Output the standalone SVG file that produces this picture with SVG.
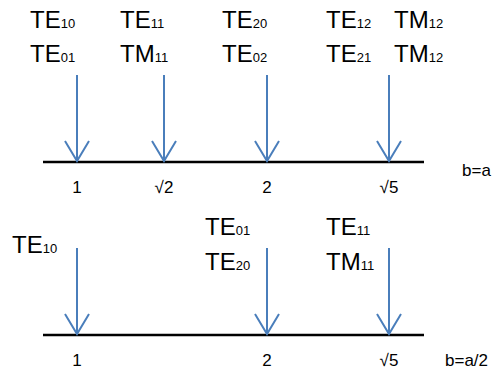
<svg xmlns="http://www.w3.org/2000/svg" width="497" height="376" viewBox="0 0 497 376">
<style>
.t{font-family:"Liberation Sans",Arial,sans-serif;font-size:24px;fill:#000}
.s{font-size:13px}
.ax{font-family:"Liberation Sans",Arial,sans-serif;font-size:17px;fill:#000;text-anchor:middle}
.bl{font-family:"Liberation Sans",Arial,sans-serif;font-size:17px;fill:#000}
.axis{stroke:#000;stroke-width:2.5;fill:none}
.arr{stroke:#4A7EBB;stroke-width:2;fill:none}
</style>
<rect width="497" height="376" fill="#fff"/>
<g id="connectors">
<line class="axis" x1="43" y1="162" x2="424" y2="162"/>
<line class="axis" x1="43" y1="335" x2="424" y2="335"/>
<g class="arr">
<path d="M77 75V161M65 141L77 161L89 141"/>
<path d="M164 75V161M152 141L164 161L176 141"/>
<path d="M267 75V161M255 141L267 161L279 141"/>
<path d="M389 75V161M377 141L389 161L401 141"/>
<path d="M77 248V334M65 314L77 334L89 314"/>
<path d="M267 248V334M255 314L267 334L279 314"/>
<path d="M389 248V334M377 314L389 334L401 314"/>
</g>
</g>
<g id="top-1"><text class="t" x="30" y="28">TE<tspan class="s">10</tspan></text><text class="t" x="30" y="62">TE<tspan class="s">01</tspan></text></g>
<g id="top-sqrt2"><text class="t" x="120" y="28">TE<tspan class="s">11</tspan></text><text class="t" x="120" y="62">TM<tspan class="s">11</tspan></text></g>
<g id="top-2"><text class="t" x="222" y="28">TE<tspan class="s">20</tspan></text><text class="t" x="222" y="62">TE<tspan class="s">02</tspan></text></g>
<g id="top-sqrt5a"><text class="t" x="326" y="28">TE<tspan class="s">12</tspan></text><text class="t" x="326" y="62">TE<tspan class="s">21</tspan></text></g>
<g id="top-sqrt5b"><text class="t" x="394" y="28">TM<tspan class="s">12</tspan></text><text class="t" x="394" y="62">TM<tspan class="s">12</tspan></text></g>
<g id="top-axis-labels">
<text class="ax" x="77" y="193">1</text>
<text class="ax" x="164" y="193">√2</text>
<text class="ax" x="267" y="193">2</text>
<text class="ax" x="389" y="193">√5</text>
<text class="bl" x="462" y="176">b=a</text>
</g>
<g id="bot-1"><text class="t" x="12" y="253">TE<tspan class="s">10</tspan></text></g>
<g id="bot-2"><text class="t" x="205" y="235">TE<tspan class="s">01</tspan></text><text class="t" x="205" y="270">TE<tspan class="s">20</tspan></text></g>
<g id="bot-sqrt5"><text class="t" x="326" y="235">TE<tspan class="s">11</tspan></text><text class="t" x="326" y="270">TM<tspan class="s">11</tspan></text></g>
<g id="bot-axis-labels">
<text class="ax" x="77" y="366">1</text>
<text class="ax" x="267" y="366">2</text>
<text class="ax" x="389" y="366">√5</text>
<text class="bl" x="445" y="366">b=a/2</text>
</g>
</svg>
